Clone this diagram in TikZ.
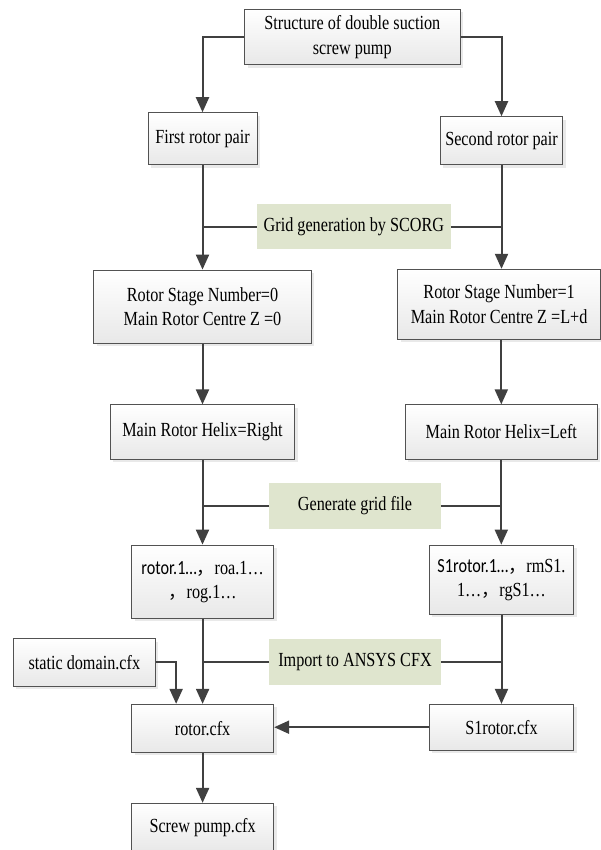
\documentclass[tikz,border=0pt]{standalone}
\usepackage{fontspec}
\setmainfont[FakeStretch=0.81]{Liberation Serif}
\newfontfamily\calfont[FakeStretch=0.81]{Carlito}
\newfontfamily\cjkfont{Noto Sans CJK SC}
\usetikzlibrary{arrows.meta,shadows,calc}
\definecolor{labgreen}{RGB}{223,229,206}
\definecolor{linegray}{RGB}{64,64,64}
\newcommand\myfs{\fontsize{20}{24.3}\selectfont}
\newcommand\cjkcomma{{\cjkfont\fontsize{18}{24.3}\selectfont ，}}
\tikzset{
  box/.style={draw=black!68, line width=0.9pt, top color=white, bottom color=black!9,
    drop shadow={shadow xshift=3pt, shadow yshift=-3pt, fill=black!17},
    inner sep=0pt, align=center, font=\myfs},
  lbl/.style={fill=labgreen, inner sep=0pt, align=center, font=\myfs},
  conn/.style={draw=linegray, line width=2pt, -{Triangle[length=15pt,width=13pt]}},
  plain/.style={draw=linegray, line width=2pt},
}
\begin{document}
\begin{tikzpicture}[x=1pt,y=-1pt]
\useasboundingbox (0,0) rectangle (601,850);
\node[box, minimum width=215.5pt, minimum height=55.7pt] (top) at (352.3,37) {Structure of double suction\\screw pump};
\node[box, minimum width=109pt, minimum height=52pt] (first) at (202.5,138.7) {First rotor pair};
\node[box, minimum width=122.7pt, minimum height=48pt] (second) at (501.5,140.7) {Second rotor pair};
\node[lbl, minimum width=193.7pt, minimum height=45.3pt] (grid) at (353.9,226.7) {Grid generation by SCORG};
\node[box, minimum width=217.7pt, minimum height=73.3pt] (stage0) at (202.5,306.7) {Rotor Stage Number=0\\Main Rotor Centre Z =0};
\node[box, minimum width=203pt, minimum height=70pt] (stage1) at (499.1,304.3) {Rotor Stage Number=1\\Main Rotor Centre Z =L+d};
\node[box, minimum width=184.3pt, minimum height=54.3pt] (helixR) at (202.5,432) {Main Rotor Helix=Right};
\node[box, minimum width=191.7pt, minimum height=54.3pt] (helixL) at (501.3,432) {Main Rotor Helix=Left};
\node[lbl, minimum width=171.3pt, minimum height=45.7pt] (gen) at (355,506) {Generate grid file};
\node[box, minimum width=142.2pt, minimum height=73.3pt] (fileL) at (202.6,581.7) {{\calfont rotor.1…}\cjkcomma roa.1…\\\cjkcomma rog.1…};
\node[box, minimum width=144.5pt, minimum height=69.3pt] (fileR) at (501.5,579.7) {{\calfont S1rotor.1…}\cjkcomma rmS1.\\1…\cjkcomma rgS1…};
\node[box, minimum width=141.8pt, minimum height=47.3pt] (static) at (84.3,662.3) {static domain.cfx};
\node[lbl, minimum width=171.3pt, minimum height=45.7pt] (import) at (355,662.3) {Import to ANSYS CFX};
\node[box, minimum width=142.2pt, minimum height=48pt] (rotor) at (202.6,728.3) {rotor.cfx};
\node[box, minimum width=144.5pt, minimum height=45.7pt] (s1rotor) at (501.5,727.2) {S1rotor.cfx};
\node[box, minimum width=142.2pt, minimum height=48pt] (screw) at (202.6,827.3) {Screw pump.cfx};
\coordinate (sdin) at ($(rotor.north west)!0.315!(rotor.north east)$);
% connectors
\draw[conn] (top.west) -| (first.north);
\draw[conn] (top.east) -| (second.north);
\draw[conn] (first.south) -- (first.south |- stage0.north);
\draw[conn] (second.south) -- (second.south |- stage1.north);
\draw[plain] (grid.west) -- (grid.west -| first.south);
\draw[plain] (grid.east) -- (grid.east -| second.south);
\draw[conn] (stage0.south -| helixR.north) -- (helixR.north);
\draw[conn] (stage1.south -| helixL.north) -- (helixL.north);
\draw[conn] (helixR.south) -- (helixR.south |- fileL.north);
\draw[conn] (helixL.south) -- (helixL.south |- fileR.north);
\draw[plain] (gen.west) -- (gen.west -| helixR.south);
\draw[plain] (gen.east) -- (gen.east -| helixL.south);
\draw[conn] (fileL.south) -- (fileL.south |- rotor.north);
\draw[conn] (fileR.south) -- (fileR.south |- s1rotor.north);
\draw[plain] (import.west) -- (import.west -| fileL.south);
\draw[plain] (import.east) -- (import.east -| fileR.south);
\draw[conn] (static.east) -| (sdin);
\draw[conn] (s1rotor.west) -- (s1rotor.west -| rotor.east);
\draw[conn] (rotor.south) -- (screw.north);
\end{tikzpicture}
\end{document}
